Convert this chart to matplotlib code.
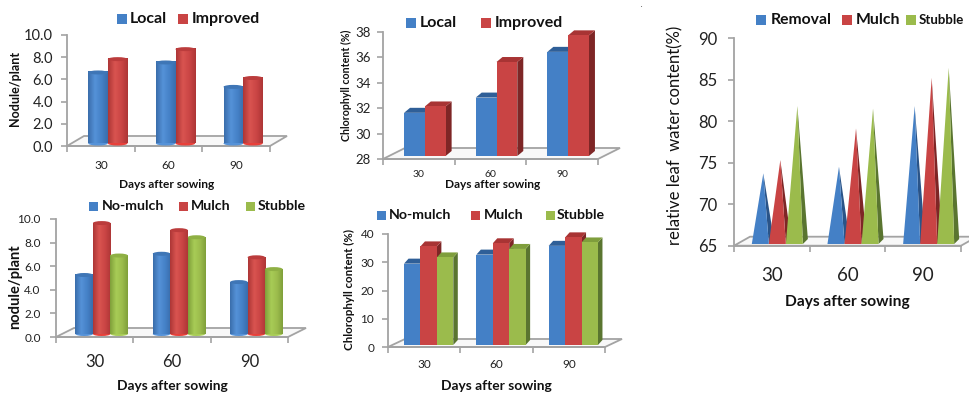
import numpy as np
import matplotlib
matplotlib.use('Agg')
import matplotlib.pyplot as plt
from matplotlib.patches import Ellipse, Polygon, Rectangle

plt.rcParams['font.family'] = ['Lato', 'DejaVu Sans']

W, H = 970, 393

days = ['30', '60', '90']

# nodule count, variety trial
nodule_local = [6.4, 7.3, 5.1]
nodule_improved = [7.6, 8.5, 5.9]

# chlorophyll, variety trial
chl_local = [31.4, 32.6, 36.2]
chl_improved = [31.9, 35.4, 37.5]

# relative leaf water content
rlwc_removal = [73.5, 74.3, 81.6]
rlwc_mulch = [75.1, 78.9, 85.0]
rlwc_stubble = [81.6, 81.3, 86.2]

# nodule count, residue trial
nodule_nomulch = [5.0, 6.8, 4.4]
nodule_mulch = [9.4, 8.8, 6.5]
nodule_stubble = [6.65, 8.2, 5.5]

# chlorophyll, residue trial
chl_nomulch = [28.8, 32.0, 35.1]
chl_mulch = [34.9, 36.0, 38.1]
chl_stubble = [31.0, 34.0, 36.3]

AXIS_GREY = '#a3a3a3'
FACE = {'blue': '#4480c6', 'red': '#c94444', 'green': '#9bbb4c'}
EDGE = {'blue': '#3a6dab', 'red': '#ad3636', 'green': '#7f9f3a'}
GLOW = {'blue': '#5592d8', 'red': '#d95450', 'green': '#a8cc56'}
SIDE = {'blue': '#2a5488', 'red': '#7e2626', 'green': '#5a7530'}
TOP = {'blue': '#2f5f98', 'red': '#a83434', 'green': '#7f9e3c'}
CAP = {'blue': '#3f76b6', 'red': '#bb3c3c', 'green': '#8fb044'}

fig = plt.figure(figsize=(W / 100, H / 100), dpi=100)


def fx(x):
    return x / W


def fy(y):
    return 1 - y / H


def make_axes(x0, x1, ytop, ybot, ylim, yticks, yfmt, ysize, xsize, xpad, ypad=3):
    ax = fig.add_axes([fx(x0), fy(ybot), (x1 - x0) / W, (ybot - ytop) / H])
    ax.patch.set_alpha(0)
    for s in ['top', 'right']:
        ax.spines[s].set_visible(False)
    for s in ['left', 'bottom']:
        ax.spines[s].set_color(AXIS_GREY)
        ax.spines[s].set_linewidth(1.3)
    ax.set_xticks([0, 1, 2, 3])
    ax.set_xticklabels([])
    ax.set_xticks([0.5, 1.5, 2.5], minor=True)
    ax.set_xticklabels(days, minor=True, fontsize=xsize, color='#222222')
    ax.tick_params(axis='x', which='major', length=4, width=1.2, color=AXIS_GREY)
    ax.tick_params(axis='x', which='minor', length=0, pad=xpad)
    ax.set_yticks(yticks)
    ax.set_yticklabels([yfmt % t for t in yticks], fontsize=ysize, color='#222222')
    ax.tick_params(axis='y', length=4, width=1.2, color=AXIS_GREY, pad=ypad)
    ax.sx = (x1 - x0) / 3
    ax.sy = (ybot - ytop) / (ylim[1] - ylim[0])
    ax.ylim = ylim
    return ax


def draw_floor(ax, dx, dy):
    # slanted floor of the pseudo-3D plot area
    d_x = dx / ax.sx
    d_y = dy / ax.sy
    y0 = ax.ylim[0]
    ax.add_patch(Polygon([(0, y0), (d_x, y0 + d_y), (3 + d_x, y0 + d_y), (3, y0)],
                         closed=True, fc='#f8f8f8', ec=AXIS_GREY, lw=1.3,
                         clip_on=False, zorder=1))


def gradient(stops):
    xs = np.linspace(0, 1, 64)
    pos = [s[0] for s in stops]
    cols = np.array([matplotlib.colors.to_rgb(s[1]) for s in stops])
    return np.stack([np.interp(xs, pos, cols[:, i]) for i in range(3)], axis=1)[None, :, :]


def cylinders(ax, series, colors, width, dx, dy, cap):
    lift = dy / ax.sy
    base = ax.ylim[0] + lift
    shift = dx / ax.sx
    n = len(series)
    z = 3
    for c in range(3):
        for i in range(n):
            left = c + 0.5 + shift + (i - n / 2) * width
            top = series[i][c] + lift
            name = colors[i]
            g = gradient([(0, EDGE[name]), (0.35, GLOW[name]), (0.7, FACE[name]), (1, EDGE[name])])
            ax.add_patch(Ellipse((left + width / 2, base), width, cap * 2 / ax.sy,
                                 fc=GLOW[name] if name != 'red' else '#e8403a',
                                 clip_on=False, zorder=z))
            ax.imshow(g, extent=[left, left + width, base, top], aspect='auto',
                      clip_on=False, zorder=z + 0.1, interpolation='bilinear', origin='lower')
            ax.add_patch(Ellipse((left + width / 2, top), width, cap * 2 / ax.sy,
                                 fc=CAP[name], clip_on=False, zorder=z + 0.2))
            z += 1


def boxes(ax, series, colors, width, dx, dy, depth_x, depth_y):
    lift = dy / ax.sy
    base = ax.ylim[0] + lift
    shift = dx / ax.sx
    dpx = depth_x / ax.sx
    dpy = depth_y / ax.sy
    n = len(series)
    z = 3
    for c in range(3):
        for i in range(n):
            left = c + 0.5 + shift + (i - n / 2) * width
            right = left + width
            top = series[i][c] + lift
            name = colors[i]
            ax.add_patch(Polygon([(right, base), (right + dpx, base + dpy),
                                  (right + dpx, top + dpy), (right, top)],
                                 fc=SIDE[name], ec='none', clip_on=False, zorder=z))
            ax.add_patch(Polygon([(left, top), (left + dpx, top + dpy),
                                  (right + dpx, top + dpy), (right, top)],
                                 fc=TOP[name], ec='none', clip_on=False, zorder=z))
            ax.add_patch(Rectangle((left, base), width, top - base, fc=FACE[name],
                                   ec='none', clip_on=False, zorder=z + 0.1))
            z += 1


def pyramids(ax, series, colors, width, dx, dy, depth_x, depth_y, apex):
    lift = dy / ax.sy
    base = ax.ylim[0] + lift
    shift = dx / ax.sx
    dpx = depth_x / ax.sx
    dpy = depth_y / ax.sy
    n = len(series)
    z = 3
    for c in range(3):
        for i in range(n):
            left = c + 0.5 + shift + (i - n / 2) * width
            right = left + width
            tip = left + width / 2 + apex / ax.sx
            top = series[i][c] + lift
            name = colors[i]
            ax.add_patch(Polygon([(right, base), (right + dpx, base + dpy), (tip, top)],
                                 fc=SIDE[name], ec='none', clip_on=False, zorder=z))
            ax.add_patch(Polygon([(left, base), (right, base), (tip, top)],
                                 fc=FACE[name], ec='none', clip_on=False, zorder=z + 0.1))
            z += 1


def finish(ax, ylim):
    ax.set_xlim(0, 3)
    ax.set_ylim(*ylim)


def legend(items, yc, size, box=10):
    for label, name, px0, tx0, fs in items:
        fig.add_artist(Rectangle((fx(px0), fy(yc + box / 2)), box / W, box / H,
                                 transform=fig.transFigure, fc=FACE[name], ec='none'))
        fig.text(fx(tx0), fy(yc), label, fontsize=fs or size, fontweight='bold',
                 va='center', ha='left', color='#111111')


def label(x, y, text, size, rot=0, weight='bold', ha='center'):
    fig.text(fx(x), fy(y), text, fontsize=size, fontweight=weight, rotation=rot,
             ha=ha, va='center', color='#111111')


# top left, nodules by variety
ylim = (0, 10)
ax = make_axes(67, 270, 35, 146, ylim, [0, 2, 4, 6, 8, 10], '%.1f', 10.5, 8.5, 10, ypad=6)
draw_floor(ax, 17, 10)
cylinders(ax, [nodule_local, nodule_improved], ['blue', 'red'], 0.29, 7, 2.5, 2)
finish(ax, ylim)
legend([('Local', 'blue', 117, 130, None), ('Improved', 'red', 178, 192, None)], 19, 11.5)
label(167, 185, 'Days after sowing', 8.6)
label(15, 88, 'Nodule/plant', 9, rot=90)

# top middle, chlorophyll by variety
ylim = (28, 38)
ax = make_axes(383, 598, 32, 159, ylim, [28, 30, 32, 34, 36, 38], '%d', 9.5, 7.5, 8, ypad=5)
draw_floor(ax, 22, 11)
boxes(ax, [chl_local, chl_improved], ['blue', 'red'], 0.29, 6, 3, 6, 5)
finish(ax, ylim)
legend([('Local', 'blue', 406, 420, None), ('Improved', 'red', 481, 495, None)], 23, 11.5)
label(493, 185, 'Days after sowing', 8.6)
label(346, 85, 'Chlorophyll content (%)', 7.7, rot=90)

# right, relative leaf water content
ylim = (65, 90)
ax = make_axes(734, 961, 38, 245.7, ylim, [65, 70, 75, 80, 85, 90], '%d', 12, 13.5, 15, ypad=8)
draw_floor(ax, 16, 9)
pyramids(ax, [rlwc_removal, rlwc_mulch, rlwc_stubble], ['blue', 'red', 'green'],
         0.225, 5.5, 1.7, 5, 5, 3)
finish(ax, ylim)
legend([('Removal', 'blue', 756, 771, None), ('Mulch', 'red', 842, 856, None),
        ('Stubble', 'green', 906, 919, 9.5)], 20, 11.3)
label(847, 302, 'Days after sowing', 11.2)
label(675, 135, 'relative leaf  water content(%)', 12, rot=90, weight='normal')
fig.text(fx(641), fy(7), '.', fontsize=4, fontweight='bold', color='#111111',
         ha='center', va='baseline')

# bottom left, nodules by residue
ylim = (0, 10)
ax = make_axes(56, 288, 219, 337, ylim, [0, 2, 4, 6, 8, 10], '%.1f', 8.5, 12, 12, ypad=7)
draw_floor(ax, 18, 9)
cylinders(ax, [nodule_nomulch, nodule_mulch, nodule_stubble], ['blue', 'red', 'green'],
          0.226, 7, 3, 2)
finish(ax, ylim)
legend([('No-mulch', 'blue', 89, 102, None), ('Mulch', 'red', 179, 191, None),
        ('Stubble', 'green', 246, 258, None)], 206, 10.2, box=9)
label(172, 386, 'Days after sowing', 9.9)
label(15, 287, 'nodule/plant', 10.5, rot=90)

# bottom middle, chlorophyll by residue
ylim = (0, 40)
ax = make_axes(388, 605, 234, 347, ylim, [0, 10, 20, 30, 40], '%d', 8.5, 8.5, 9, ypad=6)
draw_floor(ax, 17, 8)
boxes(ax, [chl_nomulch, chl_mulch, chl_stubble], ['blue', 'red', 'green'],
      0.227, 4.5, 2, 4.5, 5)
finish(ax, ylim)
legend([('No-mulch', 'blue', 377, 389, None), ('Mulch', 'red', 471, 484, None),
        ('Stubble', 'green', 546, 557, None)], 215, 10.2, box=9)
label(496, 386, 'Days after sowing', 9.9)
label(349, 290, 'Chlorophyll content (%)', 8.3, rot=90)

fig.savefig('out.png', dpi=100)
